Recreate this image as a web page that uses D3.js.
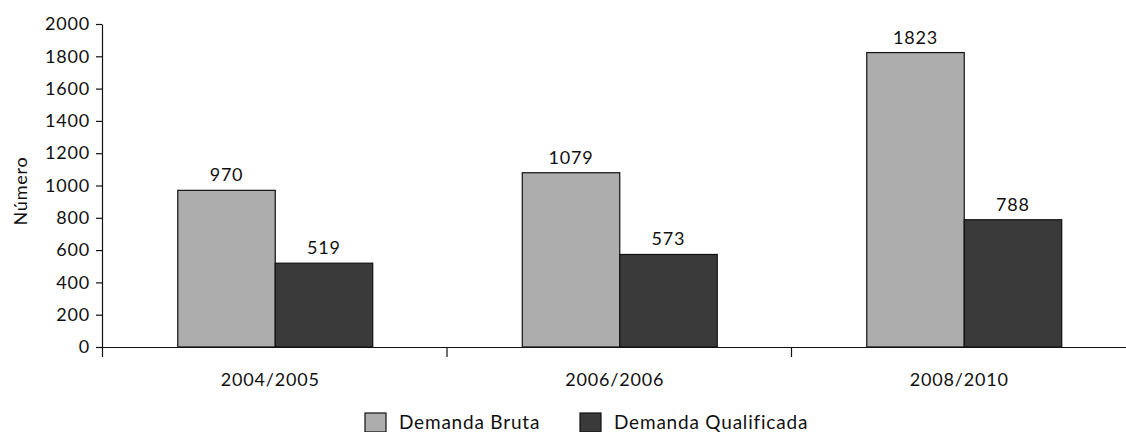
<!DOCTYPE html>
<html>
<head>
<meta charset="utf-8">
<script src="https://cdn.jsdelivr.net/npm/d3@7"></script>
<style>
  body { margin: 0; background: #fff; }
  svg text { font-family: Lato, "Open Sans", sans-serif; fill: #111; letter-spacing: 0.8px; }
</style>
</head>
<body>
<svg width="1126" height="432"></svg>
<script>
var width = 1126;
var height = 432;

var periods = ["2004/2005", "2006/2006", "2008/2010"];
var seriesNames = ["Demanda Bruta", "Demanda Qualificada"];
var brutaValues = [970, 1079, 1823];
var qualificadaValues = [519, 573, 788];
var yTicks = [0, 200, 400, 600, 800, 1000, 1200, 1400, 1600, 1800, 2000];
var seriesColors = ["#adadad", "#3a3a3a"];

var rows = periods.map((p, i) => ({
    period: p,
    values: [brutaValues[i], qualificadaValues[i]]
}));

var plotLeft = 102, plotBottom = 347, plotTop = 24;
var bandW = 344.5;

var xScale = d3.scaleBand()
                .domain(periods)
                .range([plotLeft, plotLeft + bandW * periods.length]);
var innerScale = d3.scaleBand()
                .domain(d3.range(seriesNames.length))
                .range([0, bandW])
                .paddingOuter(0.767)
                .paddingInner(0);
var yScale = d3.scaleLinear()
                .domain([0, 2000])
                .range([plotBottom, plotTop]);

var svg = d3.select("svg");

// bars
var groups = svg.selectAll("g.group")
    .data(rows)
    .enter()
    .append("g")
        .attr("class", "group")
        .attr("transform", d => `translate(${xScale(d.period) + 1}, 0)`);

groups.selectAll("rect")
    .data(d => d.values)
    .enter()
    .append("rect")
        .attr("x", (d, i) => innerScale(i))
        .attr("y", d => yScale(d))
        .attr("width", innerScale.bandwidth())
        .attr("height", d => plotBottom - yScale(d))
        .attr("fill", (d, i) => seriesColors[i])
        .attr("stroke", "#111")
        .attr("stroke-width", 1.2);

groups.selectAll("text.val")
    .data(d => d.values)
    .enter()
    .append("text")
        .attr("class", "val")
        .attr("x", (d, i) => innerScale(i) + innerScale.bandwidth() / 2)
        .attr("y", d => yScale(d) - 9)
        .attr("text-anchor", "middle")
        .style("font-size", "18px")
        .text(d => d);

// y axis
var yAxis = d3.axisLeft(yScale)
                .tickValues(yTicks)
                .tickFormat(d3.format("d"))
                .tickSize(6)
                .tickPadding(6)
                .tickSizeOuter(0);
var gy = svg.append("g")
    .attr("transform", `translate(${plotLeft}, 0)`)
    .call(yAxis);
gy.select(".domain").attr("stroke", "#111").attr("stroke-width", 1.2);
gy.selectAll(".tick line").attr("stroke", "#111").attr("stroke-width", 1.2);
gy.selectAll(".tick text")
    .style("font-family", "Lato, sans-serif")
    .style("font-size", "18px")
    .style("letter-spacing", "0.8px")
    .attr("fill", "#111");

// x axis: ticks on the band edges
var edges = periods.map(p => xScale(p)).concat([xScale.range()[1]]);
var xAxis = d3.axisBottom(d3.scaleIdentity().domain([0, width]))
                .tickValues(edges)
                .tickSize(10)
                .tickFormat("")
                .tickSizeOuter(0);
var gx = svg.append("g")
    .attr("transform", `translate(0, ${plotBottom})`)
    .call(xAxis);
gx.select(".domain").attr("d", `M${plotLeft},0.5H${xScale.range()[1]}`)
    .attr("stroke", "#111").attr("stroke-width", 1.2);
gx.selectAll(".tick line").attr("stroke", "#111").attr("stroke-width", 1.2);

svg.selectAll("text.cat")
    .data(periods)
    .enter()
    .append("text")
        .attr("class", "cat")
        .attr("x", d => xScale(d) + xScale.bandwidth() / 2 - 4)
        .attr("y", 386)
        .attr("text-anchor", "middle")
        .style("font-size", "18px")
        .text(d => d);

// y label
svg.append("text")
    .attr("transform", "translate(27, 191) rotate(-90)")
    .attr("text-anchor", "middle")
    .style("font-size", "18px")
    .text("Número");

// legend
var legendX = [365, 580];
var legend = svg.selectAll("g.legend")
    .data(seriesNames)
    .enter()
    .append("g")
        .attr("class", "legend")
        .attr("transform", (d, i) => `translate(${legendX[i]}, 413)`);
legend.append("rect")
    .attr("width", 21)
    .attr("height", 19)
    .attr("fill", (d, i) => seriesColors[i])
    .attr("stroke", "#111")
    .attr("stroke-width", 1.2);
legend.append("text")
    .attr("x", 34)
    .attr("y", 16)
    .style("font-size", "19px")
    .text(d => d);
</script>
</body>
</html>
